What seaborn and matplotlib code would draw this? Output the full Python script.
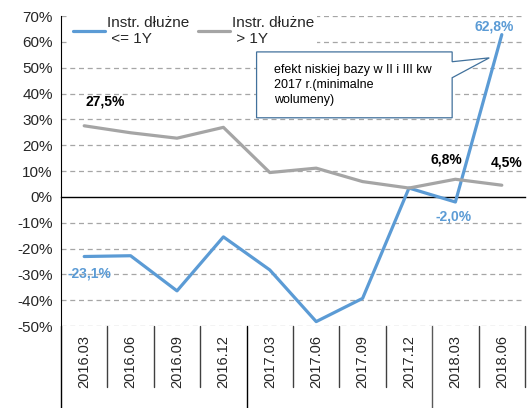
import matplotlib
matplotlib.use("Agg")
import matplotlib.pyplot as plt
from matplotlib.patches import Polygon
from matplotlib.lines import Line2D
import seaborn as sns
import pandas as pd

categories = ["2016.03", "2016.06", "2016.09", "2016.12", "2017.03",
              "2017.06", "2017.09", "2017.12", "2018.03", "2018.06"]
short_term = [-23.1, -22.8, -36.4, -15.5, -28.3, -48.3, -39.3, 3.4, -2.0, 62.8]
long_term = [27.5, 24.8, 22.7, 26.9, 9.4, 11.1, 5.9, 3.4, 6.8, 4.5]
series_names = ["Instr. dłużne\n <= 1Y", "Instr. dłużne\n > 1Y"]
y_ticks = [-50, -40, -30, -20, -10, 0, 10, 20, 30, 40, 50, 60, 70]
note_text = "efekt niskiej bazy w II i III kw\n2017 r.(minimalne\nwolumeny)"

BLUE = "#5B9BD5"
GRAY = "#A5A5A5"

sns.set_style("white")
plt.rcParams["font.family"] = ["Liberation Sans", "DejaVu Sans"]

df = pd.DataFrame({
    "idx": list(range(len(categories))) * 2,
    "value": short_term + long_term,
    "series": [series_names[0]] * len(categories) + [series_names[1]] * len(categories),
})

fig = plt.figure(figsize=(5.27, 4.08), dpi=100)
ax = fig.add_axes([61 / 527, 1 - 326 / 408, 464 / 527, 310 / 408])

sns.lineplot(data=df, x="idx", y="value", hue="series",
             palette=[BLUE, GRAY], linewidth=2.3, sort=False, ax=ax, zorder=3)

ax.set_xlim(-0.5, len(categories) - 0.5)
ax.set_ylim(-50, 70)
ax.set_xlabel("")
ax.set_ylabel("")

# grid
for v in y_ticks:
    if v != 0:
        ax.axhline(v, color="#A6A6A6", lw=0.9, ls=(0, (4, 3)), zorder=1)

ax.set_yticks(y_ticks)
ax.set_yticklabels([f"{v}%" for v in y_ticks], fontsize=11)
ax.tick_params(axis="y", direction="out", length=4, width=0.8, color="black", pad=2)

for s in ["top", "right"]:
    ax.spines[s].set_visible(False)
ax.spines["left"].set_color("black")
ax.spines["bottom"].set_position(("data", 0))
ax.spines["bottom"].set_color("black")
ax.spines["bottom"].set_linewidth(1.0)

bounds = [i - 0.5 for i in range(len(categories) + 1)]
ax.set_xticks(bounds)
ax.set_xticklabels([])
ax.tick_params(axis="x", direction="out", length=4, width=0.8, color="black")

trans = ax.get_xaxis_transform()
for i, c in enumerate(categories):
    ax.text(i, -0.116, c, rotation=90, ha="center", va="center",
            fontsize=10.5, transform=trans, clip_on=False)

for j, b in enumerate(bounds):
    if j in (0, 4, 8):
        ax.add_line(Line2D([b, b], [0, -0.27], transform=trans, color="black" if j < 8 else "#595959",
                           lw=1.0, clip_on=False))
    else:
        ax.add_line(Line2D([b, b], [0, -0.197], transform=trans, color="#404040",
                           lw=1.0, clip_on=False))

# data labels
lab = dict(ha="center", va="center", fontsize=10, fontweight="bold")
ax.text(0.46, 36.8, "27,5%", color="black", **lab)
ax.text(0.12, -29.8, "-23,1%", color=BLUE, **lab)
ax.text(7.8, 14.3, "6,8%", color="black", **lab)
ax.text(9.1, 13.3, "4,5%", color="black", **lab)
ax.text(7.95, -7.6, "-2,0%", color=BLUE, **lab)
ax.text(8.83, 66.0, "62,8%", color=BLUE, **lab)

# callout
poly = Polygon([(3.715, 56.1), (7.93, 56.1), (7.93, 52.3), (8.73, 53.8),
                (7.93, 46.1), (7.93, 30.6), (3.715, 30.6)],
               closed=True, facecolor="white", edgecolor="#41719C", lw=0.9, zorder=4)
ax.add_patch(poly)
ax.text(4.1, 43.4, note_text, ha="left", va="center", fontsize=9, linespacing=1.32,
        color="black", zorder=5)

leg = ax.legend(loc="upper left", bbox_to_anchor=(70 / 527, 1 - 13 / 408),
                bbox_transform=fig.transFigure, ncol=2, frameon=True, fontsize=11,
                handlelength=2.1, handletextpad=0.1, columnspacing=0.6,
                borderpad=0.2, borderaxespad=0)
leg.get_frame().set_facecolor("white")
leg.get_frame().set_edgecolor("none")
leg.get_frame().set_alpha(1)
for h in leg.get_lines():
    h.set_linewidth(2.3)
leg.set_zorder(6)

fig.savefig("out.png", dpi=100)
